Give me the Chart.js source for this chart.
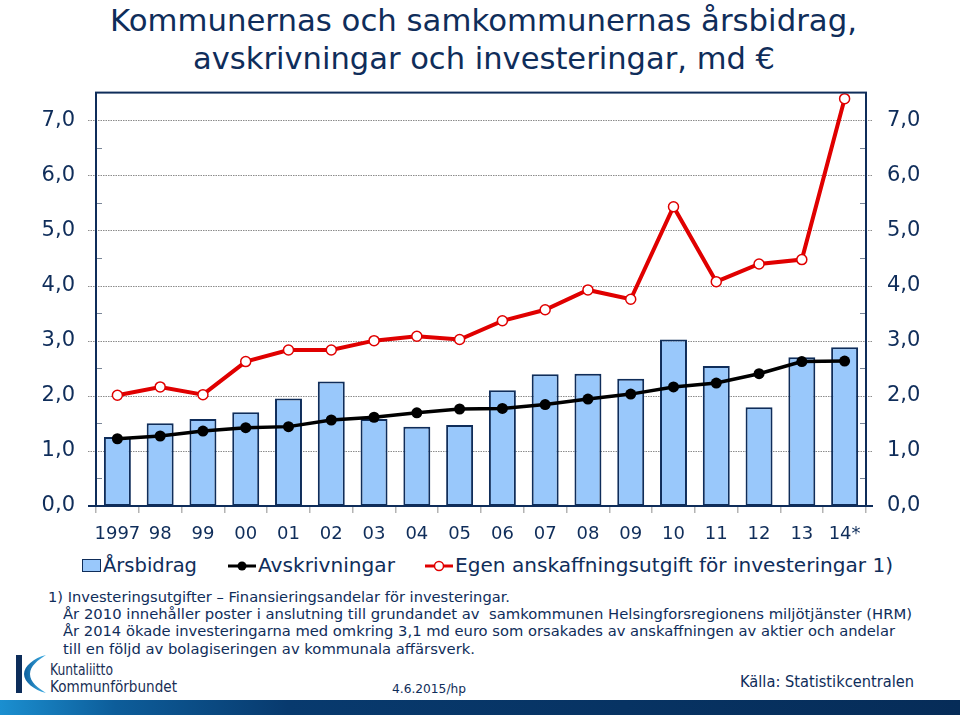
<!DOCTYPE html>
<html>
<head>
<meta charset="utf-8">
<script src="https://cdn.jsdelivr.net/npm/chart.js@4.4.1/dist/chart.umd.min.js"></script>
<style>
  html, body { margin: 0; padding: 0; background: #fff; }
  body { width: 960px; height: 715px; position: relative; overflow: hidden; font-family: "DejaVu Sans", Verdana, sans-serif; color: #0f2d5a; }
  .t { position: absolute; white-space: nowrap; display: inline-block; transform-origin: left center; line-height: 1; }
  #chartWrap { position: absolute; left: 0; top: 67px; width: 960px; height: 483px; }
  .leg { position: absolute; top: 556px; height: 20px; }
  .bar { position: absolute; left: 0; top: 700px; width: 960px; height: 15px;
         background: linear-gradient(to right, #1b8fd0 0%, #0d5d9a 12%, #083a6e 30%, #062c58 100%); }
</style>
</head>
<body>

<div class="t" id="title1" data-w="747" style="left:110px; top:6px; font-size:30px;">Kommunernas och samkommunernas årsbidrag,</div>
<div class="t" id="title2" data-w="582" style="left:193px; top:44px; font-size:30px;">avskrivningar och investeringar, md €</div>

<div id="chartWrap"><canvas id="myChart" width="960" height="483"></canvas></div>

<!-- legend -->
<div class="leg" style="left:82px; top:559px; width:19px; height:13px; background:#99c8fb; border:1.5px solid #0f2d5a; box-sizing:border-box;"></div>
<div class="t" data-w="94" style="left:103px; top:556px; font-size:19px;">Årsbidrag</div>
<svg class="leg" style="left:227px;" width="30" height="20"><line x1="1" y1="10" x2="29" y2="10" stroke="#000" stroke-width="3"/><circle cx="15" cy="10" r="4.5" fill="#000"/></svg>
<div class="t" data-w="137" style="left:258px; top:556px; font-size:19px;">Avskrivningar</div>
<svg class="leg" style="left:424px;" width="30" height="20"><line x1="1" y1="10" x2="29" y2="10" stroke="#e00000" stroke-width="3"/><circle cx="15" cy="10" r="4.5" fill="#fff" stroke="#e00000" stroke-width="1.5"/></svg>
<div class="t" data-w="438" style="left:455px; top:556px; font-size:19px;">Egen anskaffningsutgift för investeringar 1)</div>

<!-- footnotes -->
<div class="t" data-w="462" style="left:48px; top:590px; font-size:14px;">1) Investeringsutgifter – Finansieringsandelar för investeringar.</div>
<div class="t" data-w="849" style="left:63px; top:607px; font-size:14px;">År 2010 innehåller poster i anslutning till grundandet av&nbsp; samkommunen Helsingforsregionens miljötjänster (HRM)</div>
<div class="t" data-w="832" style="left:63px; top:624px; font-size:14px;">År 2014 ökade investeringarna med omkring 3,1 md euro som orsakades av anskaffningen av aktier och andelar</div>
<div class="t" data-w="412" style="left:63px; top:642px; font-size:14px;">till en följd av bolagiseringen av kommunala affärsverk.</div>

<!-- logo -->
<svg style="position:absolute; left:14px; top:652px;" width="36" height="44">
  <defs><linearGradient id="lg" x1="0" y1="0" x2="1" y2="0"><stop offset="0" stop-color="#0c5f9e"/><stop offset="1" stop-color="#3fb0e6"/></linearGradient></defs>
  <rect x="2" y="3" width="6" height="38" fill="#0d2d5a"/>
  <path d="M32 3 C 20 6, 10 14, 10 22 C 10 30, 20 38, 32 41 C 24 36, 16 30, 16 22 C 16 14, 24 8, 32 3 Z" fill="url(#lg)"/>
</svg>
<div class="t" data-w="63" style="left:50px; top:663px; font-size:15px; color:#1a2f55;">Kuntaliitto</div>
<div class="t" data-w="127" style="left:50px; top:680px; font-size:15px; color:#1a2f55;">Kommunförbundet</div>

<div class="t" data-w="74" style="left:392px; top:682px; font-size:13px;">4.6.2015/hp</div>
<div class="t" data-w="174" style="left:740px; top:675px; font-size:15px;">Källa: Statistikcentralen</div>

<div class="bar"></div>

<script>
// data (md euro)
var years = ["1997", "98", "99", "00", "01", "02", "03", "04", "05", "06", "07", "08", "09", "10", "11", "12", "13", "14*"];
var arsbidrag = [1.25, 1.50, 1.58, 1.70, 1.95, 2.26, 1.58, 1.44, 1.47, 2.10, 2.39, 2.40, 2.31, 3.02, 2.54, 1.79, 2.70, 2.88];
var avskrivningar = [1.22, 1.27, 1.36, 1.42, 1.44, 1.56, 1.61, 1.69, 1.76, 1.77, 1.84, 1.94, 2.03, 2.16, 2.23, 2.40, 2.62, 2.63];
var investeringar = [2.01, 2.16, 2.02, 2.62, 2.83, 2.83, 3.00, 3.08, 3.02, 3.36, 3.56, 3.92, 3.75, 5.43, 4.07, 4.39, 4.47, 7.39];
var yTicks = [0, 1, 2, 3, 4, 5, 6, 7];

var navy = '#0f2d5a';

// squeeze text so it matches the widths in the picture
document.querySelectorAll('.t').forEach(function (el) {
    var w = parseFloat(el.getAttribute('data-w'));
    var real = el.getBoundingClientRect().width;
    if (w && real) el.style.transform = 'scaleX(' + (w / real) + ')';
});

function fmt(v) {
    return yTicks.indexOf(v) >= 0 ? v.toFixed(1).replace('.', ',') : '';
}

var frame = {
    id: 'frame',
    beforeDatasetsDraw: function (chart) {
        var ctx = chart.ctx, a = chart.chartArea, y = chart.scales.y;
        ctx.save();
        ctx.strokeStyle = '#8c8c8c';
        ctx.lineWidth = 1;
        ctx.setLineDash([1.5, 1]);
        yTicks.forEach(function (v) {
            if (v === 0) return;
            var py = Math.round(y.getPixelForValue(v)) + 0.5;
            ctx.beginPath();
            ctx.moveTo(a.left - 8, py);
            ctx.lineTo(a.right + 7, py);
            ctx.stroke();
        });
        ctx.setLineDash([]);
        ctx.strokeStyle = '#7a8698';
        for (var v = 0.5; v < 7.5; v += 1) {
            var py = Math.round(y.getPixelForValue(v)) + 0.5;
            ctx.beginPath();
            ctx.moveTo(a.left, py); ctx.lineTo(a.left + 6, py);
            ctx.moveTo(a.right - 6, py); ctx.lineTo(a.right, py);
            ctx.stroke();
        }
        ctx.restore();
    },
    afterDatasetsDraw: function (chart) {
        var ctx = chart.ctx, a = chart.chartArea, y = chart.scales.y;
        ctx.save();
        ctx.strokeStyle = navy;
        ctx.lineWidth = 2;
        ctx.strokeRect(a.left, a.top, a.right - a.left, a.bottom - a.top);
        var p0 = y.getPixelForValue(0);
        ctx.beginPath();
        ctx.moveTo(a.left - 8, p0); ctx.lineTo(a.left, p0);
        ctx.moveTo(a.right, p0); ctx.lineTo(a.right + 7, p0);
        ctx.stroke();
        ctx.restore();
    }
};

var ctx = document.getElementById('myChart');
var myChart = new Chart(ctx, {
    type: 'bar',
    data: {
        labels: years,
        datasets: [{
                label: 'Egen anskaffningsutgift för investeringar 1)',
                type: 'line',
                data: investeringar,
                borderColor: '#e00000',
                borderWidth: 4,
                pointRadius: 5,
                pointBackgroundColor: '#fff',
                pointBorderColor: '#e00000',
                pointBorderWidth: 1.5,
                fill: false,
                order: 1
            }, {
                label: 'Avskrivningar',
                type: 'line',
                data: avskrivningar,
                borderColor: '#000',
                borderWidth: 3.5,
                pointRadius: 5.5,
                pointBackgroundColor: '#000',
                pointBorderColor: '#000',
                pointBorderWidth: 0,
                fill: false,
                order: 2
            }, {
                label: 'Årsbidrag',
                type: 'bar',
                data: arsbidrag,
                backgroundColor: '#99c8fb',
                borderColor: navy,
                borderWidth: 2,
                borderSkipped: false,
                barPercentage: 0.63,
                categoryPercentage: 1,
                order: 3
            }
        ]
    },
    options: {
        responsive: false,
        animation: false,
        layout: {padding: {top: 13, left: 0, right: 0, bottom: 0}},
        plugins: {
            legend: {display: false},
            title: {display: false},
            tooltip: {enabled: false}
        },
        scales: {
            x: {
                grid: {offset: true, drawOnChartArea: false, tickLength: 7, color: '#b4b4b4', lineWidth: 1.5},
                border: {display: false},
                ticks: {color: navy, font: {family: 'DejaVu Sans', size: 18}, padding: 11, maxRotation: 0, autoSkip: false},
                afterFit: function (s) { s.height = 44; }
            },
            y: {
                position: 'left',
                min: 0, max: 7.5,
                grid: {display: false},
                border: {display: false},
                ticks: {stepSize: 0.5, callback: fmt, color: navy, font: {family: 'DejaVu Sans', size: 21}, padding: 13},
                afterFit: function (s) { s.width = 96; }
            },
            y2: {
                position: 'right',
                min: 0, max: 7.5,
                grid: {display: false},
                border: {display: false},
                ticks: {stepSize: 0.5, callback: fmt, color: navy, font: {family: 'DejaVu Sans', size: 21}, padding: 13},
                afterFit: function (s) { s.width = 94; }
            }
        }
    },
    plugins: [frame]
});
</script>
</body>
</html>
